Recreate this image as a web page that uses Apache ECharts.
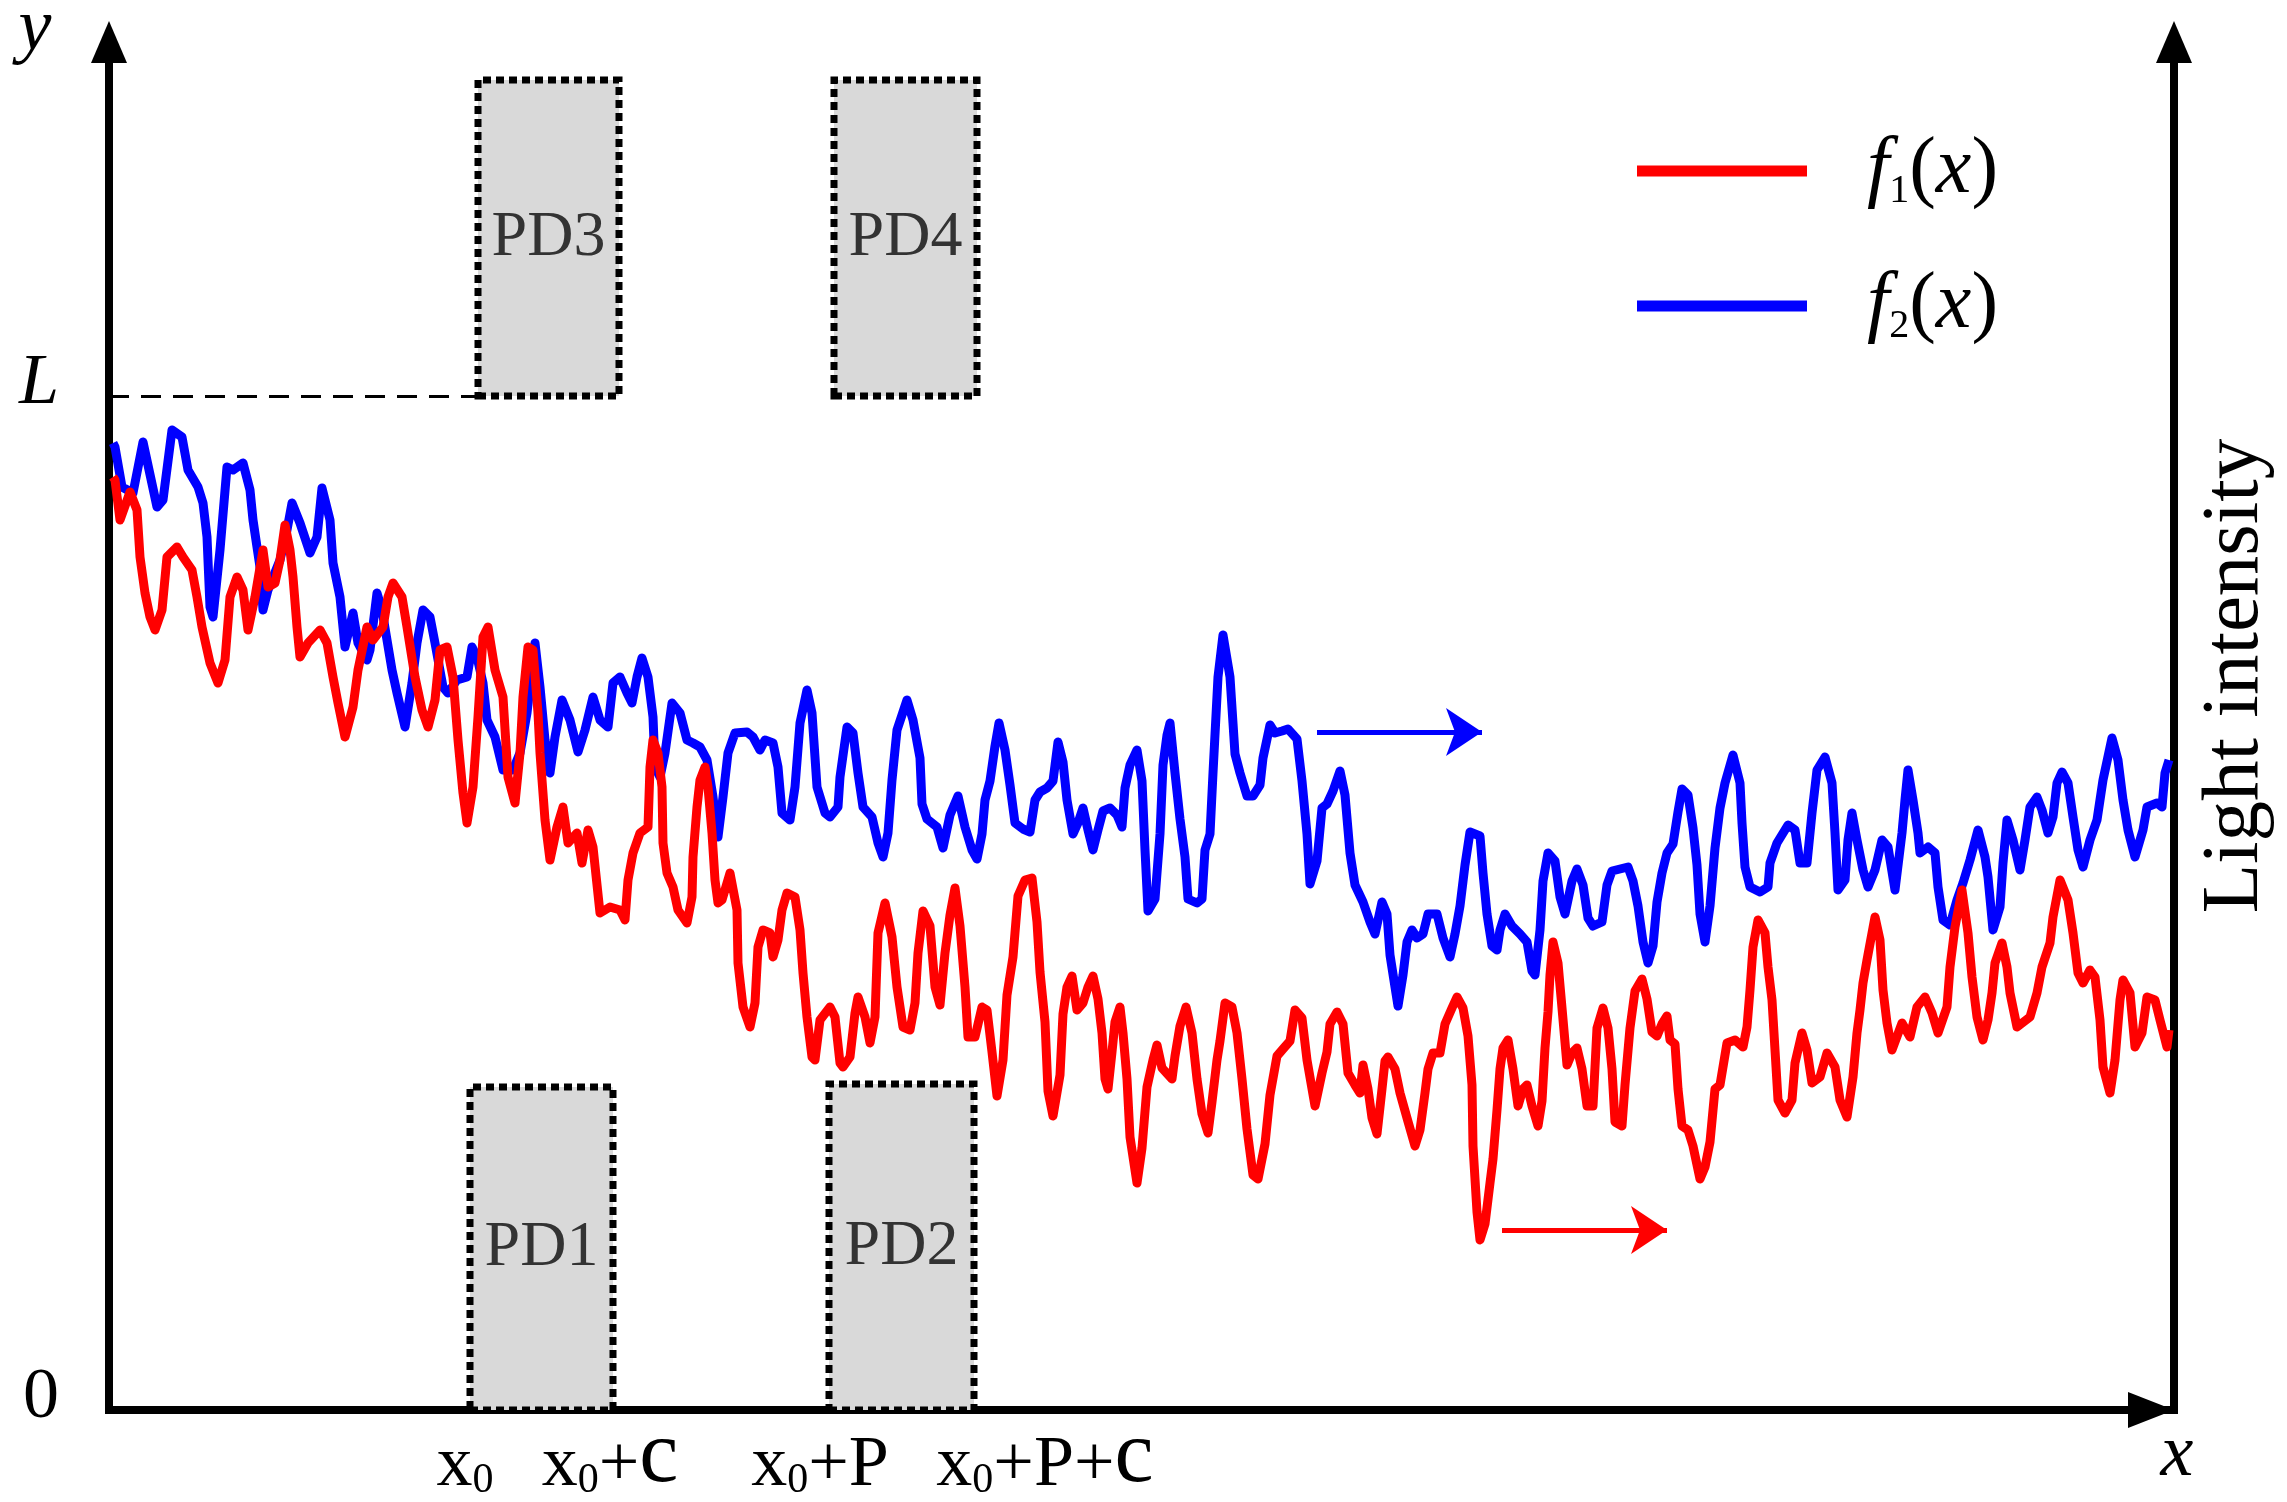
<!DOCTYPE html>
<html><head><meta charset="utf-8">
<script src="https://cdn.jsdelivr.net/npm/echarts@6/dist/echarts.min.js"></script>
<style>html,body{margin:0;padding:0;background:#fff}#c{width:2287px;height:1502px}</style>
</head><body><div id="c"></div>
<script>
// ---- data (x: distance along the axis, y: light intensity; units of the drawing, L = 1014) ----
const f1Points = [[4,933],[6,930],[11,890],[21,918],[28,900],[31,853],[36,817],[41,793],[46,780],[53,800],[58,853],[68,863],[74,853],[83,840],[88,813],[93,783],[101,747],[109,727],[116,750],[121,813],[128,833],[134,820],[139,780],[146,813],[154,860],[159,823],[166,827],[171,850],[176,885],[181,860],[184,833],[188,783],[191,753],[199,767],[211,780],[218,767],[224,733],[229,707],[236,673],[244,703],[249,740],[258,783],[264,770],[274,783],[279,813],[284,827],[293,813],[298,783],[306,733],[313,700],[319,683],[326,710],[331,760],[338,763],[344,733],[349,670],[354,617],[358,587],[364,623],[369,693],[374,773],[379,783],[386,740],[394,713],[399,633],[406,607],
[411,657],[414,713],[419,763],[424,760],[429,697],[431,657],[436,590],[441,550],[448,583],[454,603],[459,567],[468,577],[473,547],[479,580],[484,563],[491,497],[501,503],[511,500],[516,490],[519,530],[524,557],[531,577],[539,583],[541,643],[544,670],[549,657],[553,623],[554,567],[558,537],[564,523],[569,500],[578,487],[583,513],[584,553],[588,603],[591,630],[596,643],[599,623],[603,577],[606,530],[609,507],[613,510],[621,537],[628,500],[629,447],[634,403],[641,383],[646,407],[649,463],[654,480],[661,477],[664,453],[669,470],[673,500],[678,517],[686,513],[691,480],[694,437],[698,393],[703,353],[706,350],[711,390],[721,403],[726,393],[731,347],[734,343],[741,353],[746,397],[749,413],[756,393],[761,367],[766,393],[769,477],[776,507],[783,473],[788,423],[794,383],[801,380],
[806,407],[809,457],[814,499],[821,484],[826,423],[831,405],[836,457],[841,495],[846,522],[851,484],[856,423],[859,373],[866,373],[873,403],[878,400],[883,358],[888,314],[894,350],[898,415],[904,453],[909,514],[916,530],[923,532],[928,488],[931,438],[936,388],[939,319],[944,294],[951,335],[954,396],[958,423],[963,434],[968,400],[974,407],[979,423],[984,434],[989,411],[993,377],[996,331],[999,321],[1003,358],[1006,388],[1011,403],[1014,377],[1018,331],[1021,273],[1028,227],[1033,262],[1038,323],[1044,350],[1048,365],[1053,342],[1063,331],[1066,354],[1071,384],[1077,403],[1083,377],[1088,331],[1093,296],[1099,277],[1103,308],[1108,350],[1111,369],[1116,407],[1123,403],[1128,377],[1133,331],[1138,281],[1144,235],[1149,231],[1156,266],[1161,315],[1168,354],[1174,361],[1181,369],[1186,400],[1193,392],[1198,350],
[1206,304],[1213,337],[1218,358],[1221,386],[1228,398],[1234,386],[1239,337],[1246,325],[1251,317],[1254,345],[1259,321],[1263,292],[1268,276],[1273,321],[1276,349],[1279,353],[1286,341],[1291,317],[1298,292],[1306,264],[1311,280],[1316,317],[1319,341],[1324,357],[1331,357],[1336,386],[1343,402],[1348,413],[1354,402],[1359,374],[1363,325],[1364,264],[1368,198],[1371,170],[1376,186],[1381,227],[1384,251],[1388,300],[1391,341],[1394,362],[1399,370],[1404,341],[1409,304],[1414,321],[1418,325],[1423,304],[1429,284],[1433,309],[1436,362],[1439,398],[1441,435],[1444,468],[1449,447],[1453,402],[1458,345],[1463,357],[1468,362],[1473,341],[1478,304],[1484,304],[1488,382],[1494,402],[1499,382],[1503,341],[1506,288],[1513,284],[1516,325],[1521,382],[1526,419],[1533,431],[1538,411],[1543,378],[1548,374],[1553,386],[1558,394],[1561,370],[1566,366],[1569,321],[1573,284],[1579,280],[1584,264],[1591,231],[1596,243],[1601,268],[1606,321],[1611,325],
[1618,367],[1626,370],[1634,363],[1638,383],[1641,420],[1644,463],[1649,490],[1656,477],[1659,443],[1663,410],[1666,360],[1669,310],[1676,297],[1683,310],[1686,347],[1693,377],[1698,360],[1703,327],[1711,333],[1718,357],[1726,343],[1731,310],[1738,293],[1744,333],[1748,377],[1751,400],[1754,427],[1758,450],[1766,493],[1771,470],[1774,420],[1778,387],[1783,360],[1793,387],[1801,373],[1808,403],[1816,413],[1823,397],[1829,377],[1838,403],[1841,443],[1846,483],[1853,520],[1859,477],[1863,433],[1868,393],[1874,370],[1879,390],[1883,417],[1886,447],[1893,467],[1898,443],[1901,417],[1908,383],[1921,393],[1928,417],[1933,443],[1941,467],[1944,493],[1951,530],[1959,510],[1964,477],[1969,437],[1974,427],[1981,440],[1986,433],[1991,390],[1994,343],[2001,317],[2006,350],[2011,410],[2014,430],[2021,417],[2026,363],[2033,377],[2038,413],[2046,410],[2051,390],[2058,363],[2060,380]];

const f2Points = [[4,967],[6,963],[13,923],[24,917],[34,968],[48,903],[54,910],[63,980],[73,973],[79,940],[89,923],[94,907],[98,873],[101,803],[104,793],[111,860],[118,943],[124,940],[134,947],[141,920],[144,890],[148,863],[151,843],[154,800],[159,820],[171,850],[178,880],[183,907],[191,887],[201,857],[208,873],[213,922],[221,890],[224,847],[231,813],[236,763],[244,797],[249,767],[258,750],[261,760],[268,817],[273,800],[278,770],[283,740],[288,717],[296,683],[303,727],[308,767],[314,800],[321,793],[326,767],[334,723],[339,717],[348,730],[358,733],[363,763],[368,753],[374,727],[378,690],[386,673],[394,640],[404,640],
[411,657],[418,697],[426,767],[431,723],[436,670],[441,637],[446,673],[453,710],[461,690],[469,658],[476,680],[484,713],[491,690],[499,683],[504,727],[511,733],[518,717],[523,707],[528,733],[533,752],[539,733],[544,693],[546,643],[551,633],[556,657],[563,707],[571,697],[578,670],[584,667],[591,663],[598,650],[604,613],[609,573],[614,613],[619,657],[626,677],[638,678],[644,673],[651,660],[656,670],[664,667],[669,643],[673,597],[681,590],[686,623],[691,687],[698,720],[703,697],[708,623],[716,597],[721,593],[729,603],[731,633],[738,683],[744,677],[749,637],[754,603],[763,593],[769,567],[774,553],[779,577],[783,630],[788,680],[798,710],
[804,690],[811,652],[813,606],[818,591],[828,583],[834,562],[841,595],[849,614],[856,583],[863,560],[868,551],[873,576],[876,610],[881,629],[886,664],[890,687],[896,660],[901,625],[906,587],[914,581],[921,578],[926,610],[931,618],[938,622],[944,629],[949,668],[954,648],[958,610],[964,576],[969,587],[974,602],[979,580],[984,560],[989,580],[994,599],[1001,602],[1008,595],[1013,583],[1016,622],[1021,645],[1028,660],[1033,629],[1036,560],[1039,499],[1046,511],[1051,576],[1054,645],[1058,675],[1061,687],[1066,637],[1071,591],[1076,553],[1079,511],[1088,507],[1093,511],[1096,560],[1101,576],[1104,637],[1109,733],[1114,775],[1121,733],[1126,656],[1131,637],[1138,614],[1144,614],[1151,625],[1154,652],[1161,685],[1166,677],[1173,679],[1179,681],[1188,671],[1193,629],[1198,576],[1201,526],
[1208,549],[1213,602],[1218,606],[1224,619],[1231,639],[1236,615],[1241,557],[1246,525],[1254,508],[1261,488],[1266,476],[1273,508],[1278,496],[1281,455],[1286,423],[1289,404],[1294,435],[1298,468],[1303,480],[1308,472],[1314,476],[1319,496],[1328,496],[1334,472],[1341,453],[1346,476],[1351,504],[1356,545],[1361,578],[1371,574],[1374,537],[1378,496],[1383,464],[1388,460],[1391,480],[1396,496],[1403,484],[1411,476],[1418,468],[1423,439],[1426,435],[1431,480],[1434,529],[1439,557],[1446,549],[1451,513],[1456,496],[1463,529],[1468,541],[1474,525],[1479,492],[1484,484],[1493,488],[1498,525],[1503,539],[1511,541],[1519,543],[1524,529],[1529,504],[1534,468],[1539,447],[1544,464],[1548,508],[1553,537],[1558,557],[1564,566],[1569,598],[1573,621],[1579,615],[1584,582],[1588,545],[1591,496],[1596,468],[1601,504],[1606,562],[1611,602],
[1616,627],[1624,655],[1631,627],[1633,587],[1636,543],[1641,523],[1651,518],[1659,523],[1661,547],[1668,567],[1679,585],[1686,580],[1691,547],[1698,547],[1703,597],[1708,640],[1716,653],[1723,627],[1726,577],[1729,520],[1736,530],[1739,570],[1743,597],[1748,570],[1754,540],[1759,523],[1766,540],[1773,570],[1779,563],[1786,520],[1793,577],[1796,610],[1799,640],[1804,610],[1809,577],[1811,557],[1819,563],[1826,557],[1829,523],[1834,490],[1841,485],[1848,510],[1854,527],[1861,550],[1869,580],[1876,553],[1879,533],[1884,480],[1891,503],[1894,547],[1898,590],[1904,570],[1911,540],[1916,570],[1921,603],[1928,613],[1933,600],[1939,577],[1944,593],[1948,627],[1953,638],[1959,627],[1964,593],[1969,560],[1974,543],[1981,570],[1988,590],[1994,630],[2003,672],[2009,650],[2014,610],[2019,580],[2026,553],[2034,580],[2038,603],[2048,607],[2053,603],[2056,637],[2060,650]];

const seriesNames = ['f1', 'f2'];
const tickLabels = ['x0', 'x0+c', 'x0+P', 'x0+P+c'];
const tickValues = [356, 501, 711, 936];
const yTickLabels = ['0', 'L'];
const yTickValues = [0, 1014];
const L = 1014;
const xMax = 2065;
const yMax = 1368;
const pdNames = ['PD1', 'PD2', 'PD3', 'PD4'];
const pdX0 = [361, 720, 369, 725];
const pdX1 = [504, 865, 510, 868];
const pdY0 = [0, 0, 1014, 1014];
const pdY1 = [323, 326, 1330, 1330];
const f2ArrowX = [1208, 1373]; const f2ArrowY = 678;
const f1ArrowX = [1393, 1558]; const f1ArrowY = 180;

// ---- chart ----
const SERIF = "'Liberation Serif','Times New Roman',serif";
const RED = '#ff0000', BLUE = '#0000ff';

function tickRich(s) {
  let out = '{z|\u200b}';
  for (const ch of s) {
    if (ch === 'x') out += '{x|x}';
    else if (ch === '0') out += '{s|0}';
    else if (ch === 'c') out += '{c|c}';
    else out += '{p|' + ch + '}';
  }
  return out;
}
const tok = (size, style) => ({fontFamily: SERIF, fontSize: size, fontStyle: style || 'normal', fontWeight: 'normal', color: '#000', verticalAlign: 'bottom'});

const axisLineStyle = {color: '#000', width: 8, cap: 'square'};

const chart = echarts.init(document.getElementById('c'), null, {renderer: 'canvas'});
chart.setOption({
  animation: false,
  backgroundColor: '#fff',
  grid: {left: 109, right: 113, top: 42, bottom: 92, containLabel: false},
  legend: {
    data: seriesNames, orient: 'vertical', left: 1632, top: 126,
    itemWidth: 170, itemHeight: 11, itemGap: 55, icon: 'rect', selectedMode: false,
    formatter: name => '{f|f}{s|' + name.slice(1) + '}{p|(}{i|x}{p|)}',
    textStyle: {
      padding: [0, 0, 0, 55],
      rich: {f: tok(80, 'italic'), s: tok(40), p: tok(80), i: tok(80, 'italic')}
    }
  },
  xAxis: {
    type: 'value', min: 0, max: xMax,
    axisLine: {show: true, onZero: false, symbol: ['none', 'triangle'], symbolSize: [36, 46], symbolOffset: [0, -23], lineStyle: axisLineStyle},
    axisTick: {show: false}, splitLine: {show: false},
    axisLabel: {
      customValues: tickValues, margin: 2,
      formatter: v => tickRich(tickLabels[tickValues.indexOf(v)]),
      rich: {z: tok(90), x: tok(72), s: tok(42), p: tok(72), c: tok(88)}
    }
  },
  yAxis: [{
    type: 'value', min: 0, max: yMax, position: 'left',
    axisLine: {show: true, onZero: false, symbol: ['none', 'triangle'], symbolSize: [36, 42], lineStyle: axisLineStyle},
    axisTick: {show: false}, splitLine: {show: false},
    axisLabel: {
      customValues: yTickValues, margin: 50, padding: [0, 0, 24, 0],
      formatter: v => { const t = yTickLabels[yTickValues.indexOf(v)]; return t === 'L' ? '{i|L}' : '{n|' + t + '}'; },
      rich: {i: {fontFamily: SERIF, fontSize: 72, fontStyle: 'italic', color: '#000'}, n: {fontFamily: SERIF, fontSize: 72, color: '#000'}}
    }
  }, {
    type: 'value', min: 0, max: yMax, position: 'right',
    axisLine: {show: true, onZero: false, symbol: ['none', 'triangle'], symbolSize: [36, 42], lineStyle: axisLineStyle},
    axisTick: {show: false}, splitLine: {show: false}, axisLabel: {show: false}
  }],
  graphic: [
    {type: 'text', x: 35, y: 30, silent: true, style: {text: 'y', font: 'italic 74px ' + SERIF, fill: '#000', align: 'center', verticalAlign: 'middle'}},
    {type: 'text', x: 2177, y: 1456, silent: true, style: {text: 'x', font: 'italic 74px ' + SERIF, fill: '#000', align: 'center', verticalAlign: 'middle'}},
    {type: 'text', x: 2236, y: 676, rotation: Math.PI / 2, silent: true, style: {text: 'Light intensity', font: '81px ' + SERIF, fill: '#000', align: 'center', verticalAlign: 'middle'}}
  ],
  series: [
    {
      name: 'annot', type: 'line', data: [], z: 1, silent: true,
      markArea: {
        silent: true,
        itemStyle: {color: '#d9d9d9', borderColor: '#000', borderWidth: 7, borderType: [8, 5]},
        label: {show: true, position: 'inside', fontFamily: SERIF, fontSize: 64, color: '#333'},
        data: pdNames.map((n, i) => [{name: n, coord: [pdX0[i], pdY0[i]]}, {coord: [pdX1[i], pdY1[i]]}])
      },
      markLine: {
        silent: true, symbol: ['none', 'none'], label: {show: false},
        lineStyle: {color: '#000', width: 3, type: [20, 12]},
        data: [[{coord: [0, L]}, {coord: [pdX0[2], L]}]]
      }
    },
    {
      name: 'f2', type: 'line', data: f2Points, showSymbol: false, symbol: 'none', z: 2,
      lineStyle: {color: BLUE, width: 9, join: 'round'}, itemStyle: {color: BLUE},
      markLine: {
        silent: true, symbol: ['none', 'arrow'], symbolSize: 36, label: {show: false},
        lineStyle: {color: BLUE, width: 5, type: 'solid'},
        data: [[{coord: [f2ArrowX[0], f2ArrowY]}, {coord: [f2ArrowX[1], f2ArrowY]}]]
      }
    },
    {
      name: 'f1', type: 'line', data: f1Points, showSymbol: false, symbol: 'none', z: 3,
      lineStyle: {color: RED, width: 9, join: 'round'}, itemStyle: {color: RED},
      markLine: {
        silent: true, symbol: ['none', 'arrow'], symbolSize: 36, label: {show: false},
        lineStyle: {color: RED, width: 5, type: 'solid'},
        data: [[{coord: [f1ArrowX[0], f1ArrowY]}, {coord: [f1ArrowX[1], f1ArrowY]}]]
      }
    }
  ]
});
</script>
</body></html>
